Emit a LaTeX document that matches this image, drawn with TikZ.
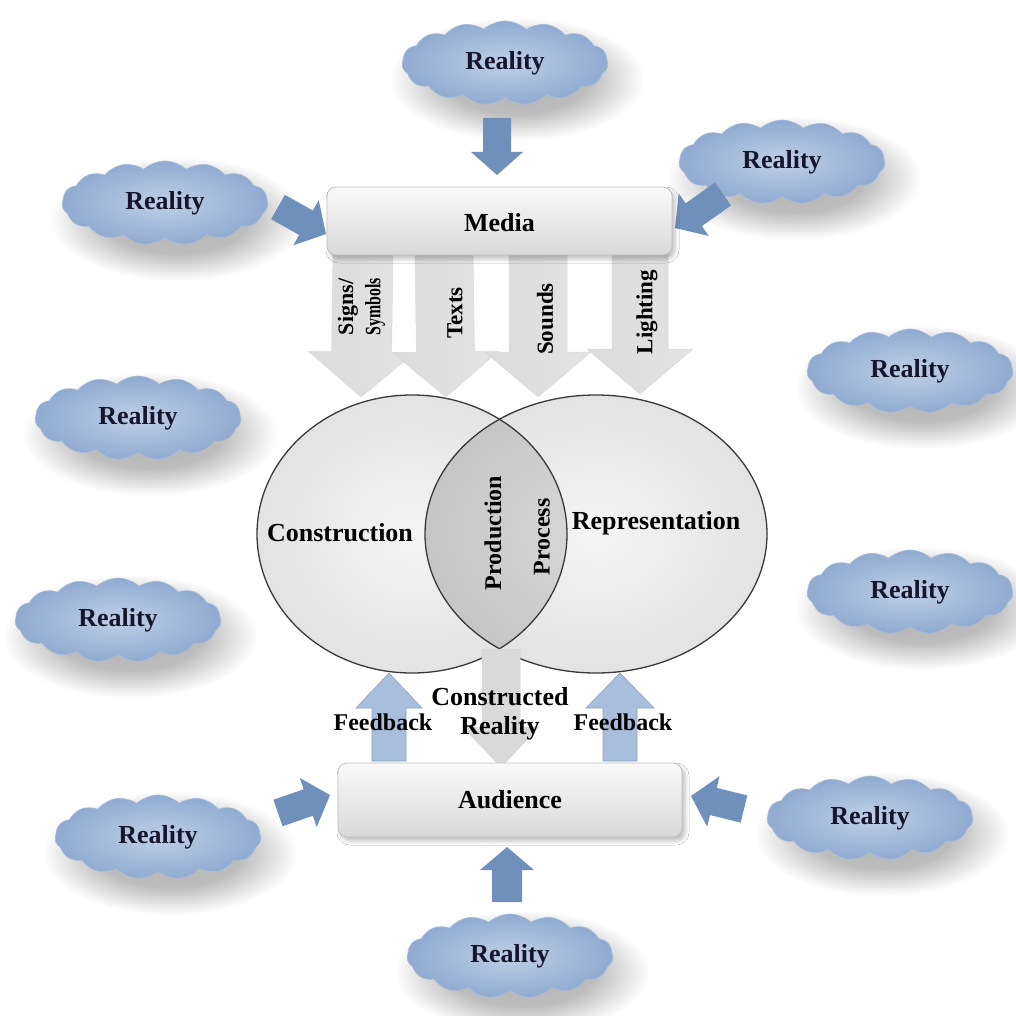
\documentclass[tikz,border=0pt]{standalone}
\usepackage{fontspec}
\usepackage{graphicx}
\setmainfont{Liberation Serif}
\usetikzlibrary{shapes.symbols,shadows.blur,calc}
\definecolor{arrblue}{HTML}{7090BC}
\definecolor{cloudin}{HTML}{BFD0E8}
\definecolor{cloudout}{HTML}{90AAD0}
\definecolor{cloudedge}{HTML}{A9BDDA}
\definecolor{cloudtext}{HTML}{16162A}
\definecolor{fbin}{HTML}{EEF2F8}
\definecolor{fbout}{HTML}{A9BEDC}
\definecolor{fbedge}{HTML}{8CA3C4}
\pgfdeclareradialshading{cshadow}{\pgfpoint{0bp}{0bp}}{color(0bp)=(black!30); color(14bp)=(black!26); color(25bp)=(white); color(50bp)=(white)}
\newcommand\blockarr[6]{%
  \coordinate (ba-hb) at ($(#3)!#6!(#2)$);
  \path[#1] ($(#2)!#4!90:(#3)$) -- ($(ba-hb)!#4!90:(#3)$) -- ($(ba-hb)!#5!90:(#3)$)
    -- (#3) -- ($(ba-hb)!#5!-90:(#3)$) -- ($(ba-hb)!#4!-90:(#3)$) -- ($(#2)!#4!-90:(#3)$) -- cycle;
}
\newcommand\cloudshadow[1]{%
  \path[shading=cshadow] ($(#1)+(12,16)$) ellipse[x radius=128pt, y radius=62pt];
}
\tikzset{
  reality/.style={cloud, cloud puffs=15, cloud puff arc=85, aspect=2.5,
    minimum width=206pt, minimum height=84pt, inner sep=2pt,
    inner color=cloudin, outer color=cloudout, draw=cloudedge, line width=0.6pt,
    font=\bfseries\fontsize{26}{28}\selectfont, text=cloudtext},
  bluearr/.style={fill=arrblue},
  bar/.style={rounded corners=9pt, top color=gray!4, bottom color=gray!30,
    draw=gray!50, line width=0.8pt, inner sep=0pt,
    blur shadow={shadow xshift=3pt, shadow yshift=-4pt, shadow opacity=25, shadow blur radius=4pt},
    font=\bfseries\fontsize{26}{28}\selectfont},
  downarr/.style={left color=gray!28, middle color=gray!6, right color=gray!22, draw=gray!30, line width=0.5pt},
  fbarr/.style={left color=fbout, middle color=fbin, right color=fbout, draw=fbedge, line width=0.6pt},
  cons/.style={left color=gray!30, middle color=gray!8, right color=gray!30, draw=gray!35, line width=0.5pt},
  circfill/.style={inner color=gray!8, outer color=gray!22},
  overlapfill/.style={inner color=gray!30, outer color=gray!45},
  circedge/.style={draw=gray!45!black, line width=1.3pt},
  lab/.style={font=\bfseries\fontsize{26}{28}\selectfont, inner sep=0pt},
  vlab/.style={font=\bfseries\fontsize{23}{25}\selectfont, rotate=90, inner sep=0pt},
}
\begin{document}
\begin{tikzpicture}[x=1pt,y=-1pt]
\fill[white] (0,0) rectangle (1015,1016);
\useasboundingbox (0,0) rectangle (1015,1016);

% cloud positions and shadows
\coordinate (p1) at (505,63);
\coordinate (p2) at (782,162);
\coordinate (p3) at (165,203);
\coordinate (p4) at (910,371);
\coordinate (p5) at (138,418);
\coordinate (p6) at (910,592);
\coordinate (p7) at (118,620);
\coordinate (p8) at (158,837);
\coordinate (p9) at (870,818);
\coordinate (p10) at (510,956);
\foreach \i in {1,...,10} {\cloudshadow{p\i}}

% clouds
\node[reality] (c1) at (p1) {Reality};
\node[reality] (c2) at (p2) {Reality};
\node[reality] (c3) at (p3) {Reality};
\node[reality] (c4) at (p4) {Reality};
\node[reality] (c5) at (p5) {Reality};
\node[reality] (c6) at (p6) {Reality};
\node[reality] (c7) at (p7) {Reality};
\node[reality] (c8) at (p8) {Reality};
\node[reality] (c9) at (p9) {Reality};
\node[reality] (c10) at (p10) {Reality};

% small blue arrows
\coordinate (a1s) at (497,118); \coordinate (a1e) at (497,175);
\coordinate (a2s) at (278,207); \coordinate (a2e) at (326,234);
\coordinate (a3s) at (723,194); \coordinate (a3e) at (675,228);
\coordinate (a4s) at (278,813); \coordinate (a4e) at (330,795);
\coordinate (a5s) at (744,809); \coordinate (a5e) at (691,796);
\coordinate (a6s) at (507,902); \coordinate (a6e) at (507,847);
\blockarr{bluearr}{a1s}{a1e}{14pt}{26pt}{23pt}
\blockarr{bluearr}{a2s}{a2e}{14pt}{26pt}{23pt}
\blockarr{bluearr}{a3s}{a3e}{14pt}{26pt}{23pt}
\blockarr{bluearr}{a4s}{a4e}{14pt}{26pt}{23pt}
\blockarr{bluearr}{a5s}{a5e}{14pt}{26pt}{23pt}
\blockarr{bluearr}{a6s}{a6e}{15pt}{27pt}{23pt}

% ellipses
\fill[circfill] (412,534) ellipse[x radius=155pt, y radius=139pt];
\fill[circfill] (596,534) ellipse[x radius=171pt, y radius=139pt];
\begin{scope}
  \clip (412,534) ellipse[x radius=155pt, y radius=139pt];
  \fill[overlapfill] (596,534) ellipse[x radius=171pt, y radius=139pt];
\end{scope}
\draw[circedge] (412,534) ellipse[x radius=155pt, y radius=139pt];
\draw[circedge] (596,534) ellipse[x radius=171pt, y radius=139pt];

% down arrows from Media
\coordinate (d1s) at (363,250); \coordinate (d1e) at (361,397);
\coordinate (d2s) at (444,250); \coordinate (d2e) at (446,397);
\coordinate (d3s) at (538,250); \coordinate (d3e) at (538,397);
\coordinate (d4s) at (640,250); \coordinate (d4e) at (640,394);
\blockarr{downarr}{d1s}{d1e}{30pt}{53pt}{45pt}
\blockarr{downarr}{d2s}{d2e}{29pt}{53pt}{45pt}
\blockarr{downarr}{d3s}{d3e}{29pt}{53pt}{45pt}
\blockarr{downarr}{d4s}{d4e}{28pt}{53pt}{45pt}

% Media box
\node[bar, minimum width=345pt, minimum height=68pt, text depth=2pt] (media) at (499.5,221) {\raisebox{-5pt}{Media}};

% feedback arrows
\coordinate (f1s) at (389,761); \coordinate (f1e) at (389,673);
\coordinate (f2s) at (620,761); \coordinate (f2e) at (620,673);
\blockarr{fbarr}{f1s}{f1e}{17pt}{33pt}{35pt}
\blockarr{fbarr}{f2s}{f2e}{17pt}{34pt}{35pt}

% constructed reality arrow
\coordinate (crs) at (501,649); \coordinate (cre) at (501,767);
\blockarr{cons}{crs}{cre}{19pt}{38pt}{40pt}

% Audience box
\node[bar, minimum width=344pt, minimum height=74pt] (aud) at (510,800) {Audience};

% labels
\node[vlab, font=\bfseries\fontsize{22}{24}\selectfont] (lsigns) at (348,307) {Signs/};
\node[vlab, font=\bfseries\fontsize{22}{24}\selectfont] (lsym) at (375,307) {\scalebox{0.72}[1]{Symbols}};
\node[vlab] (ltexts) at (455,313) {Texts};
\node[vlab] (lsounds) at (545,319) {Sounds};
\node[vlab] (llight) at (647,312) {Lighting};
\node[lab] (lcons) at (340,533) {Construction};
\node[lab] (lrep) at (656,523) {Representation};
\node[vlab, font=\bfseries\fontsize{24}{26}\selectfont] (lprod) at (493,533) {Production};
\node[vlab, font=\bfseries\fontsize{24}{26}\selectfont] (lproc) at (542,537) {Process};
\node[lab, font=\bfseries\fontsize{24}{26}\selectfont] (lfb1) at (383,722) {Feedback};
\node[lab, font=\bfseries\fontsize{24}{26}\selectfont] (lfb2) at (623,722) {Feedback};
\node[lab] (lcr1) at (500,697) {Constructed};
\node[lab] (lcr2) at (500,728) {Reality};
\end{tikzpicture}
\end{document}
